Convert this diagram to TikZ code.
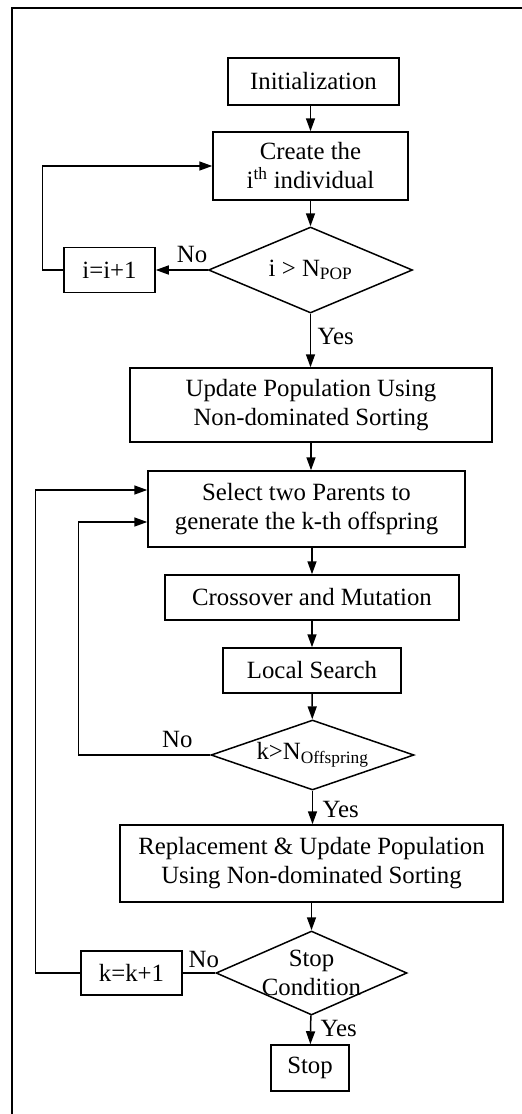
\documentclass[tikz,border=0pt]{standalone}
\usepackage{fontspec}
\setmainfont{Liberation Serif}
\usetikzlibrary{shapes.geometric,arrows.meta}

\begin{document}
\begin{tikzpicture}[x=1pt,y=-1pt,line width=1.5pt,
    box/.style={draw,rectangle,inner sep=0pt,align=center,font=\fontsize{24.8}{29}\selectfont},
    ask/.style={draw,diamond,inner sep=0pt},
    lbl/.style={font=\fontsize{24.8}{29}\selectfont},
    arr/.style={-{Triangle[length=13pt,width=9pt]}}]
    \useasboundingbox (0,0) rectangle (522,1114);
    \draw (12,1114) -- (12,8) -- (522,8);

    \node[box,minimum width=171pt,minimum height=47pt] (init) at (313.5,81.5) {Initialization};
    \node[box,minimum width=195pt,minimum height=68pt] (create) at (310.5,166) {Create the\\i\textsuperscript{th} individual};
    \node[ask,minimum width=204pt,minimum height=86pt,label={[lbl]center:i > N\textsubscript{POP}}] (popchk) at (310.5,270) {};
    \node[box,minimum width=91pt,minimum height=45pt] (inci) at (109.5,270) {i=i+1};
    \node[box,minimum width=362pt,minimum height=74pt] (update) at (311,405) {Update Population Using\\Non-dominated Sorting};
    \node[box,minimum width=317pt,minimum height=76pt] (select) at (306.5,509) {Select two Parents to\\generate the k-th offspring};
    \node[box,minimum width=294pt,minimum height=45pt] (cross) at (312,597.5) {Crossover and Mutation};
    \node[box,minimum width=178pt,minimum height=45pt] (local) at (312,670.5) {Local Search};
    \node[ask,minimum width=203pt,minimum height=70pt,label={[lbl]center:k>N\textsubscript{Offspring}}] (offchk) at (312.5,755) {};
    \node[box,minimum width=383pt,minimum height=77pt] (replace) at (311.5,863.5) {Replacement \& Update Population\\Using Non-dominated Sorting};
    \node[ask,minimum width=191pt,minimum height=84pt,label={[lbl,align=center]center:Stop\\Condition}] (stopchk) at (311.5,973) {};
    \node[box,minimum width=101pt,minimum height=44pt] (inck) at (131.5,973) {k=k+1};
    \node[box,minimum width=78pt,minimum height=46pt] (stop) at (310,1068) {Stop};

    \draw[arr] (create |- init.south) -- (create);
    \draw[arr] (create) -- (popchk);
    \draw[arr] (popchk) -- node[lbl,above=3pt,pos=0.3] {No} (inci);
    \draw[arr] (inci.west) -- ++(-21,0) |- (create.west);
    \draw[arr] (popchk) -- node[lbl,right=3pt,pos=0.42] {Yes} (popchk |- update.north);
    \draw[arr] (update) -- (update |- select.north);
    \draw[arr] (cross |- select.south) -- (cross);
    \draw[arr] (cross) -- (local);
    \draw[arr] (local) -- (offchk);
    \draw[arr] (offchk.west) -- node[lbl,above=3pt,pos=0.25] {No} ++(-132,0) |- ([yshift=-13pt]select.west);
    \draw[arr] (offchk) -- node[lbl,right=6pt,pos=0.55] {Yes} (offchk |- replace.north);
    \draw[arr] (replace) -- (stopchk);
    \draw (stopchk) -- node[lbl,above=1pt,pos=0.35] {No} (inck);
    \draw[arr] (inck.west) -- ++(-45,0) |- ([yshift=19pt]select.west);
    \draw[arr] (stopchk) -- node[lbl,right=6pt,pos=0.45] {Yes} (stop);
\end{tikzpicture}
\end{document}
